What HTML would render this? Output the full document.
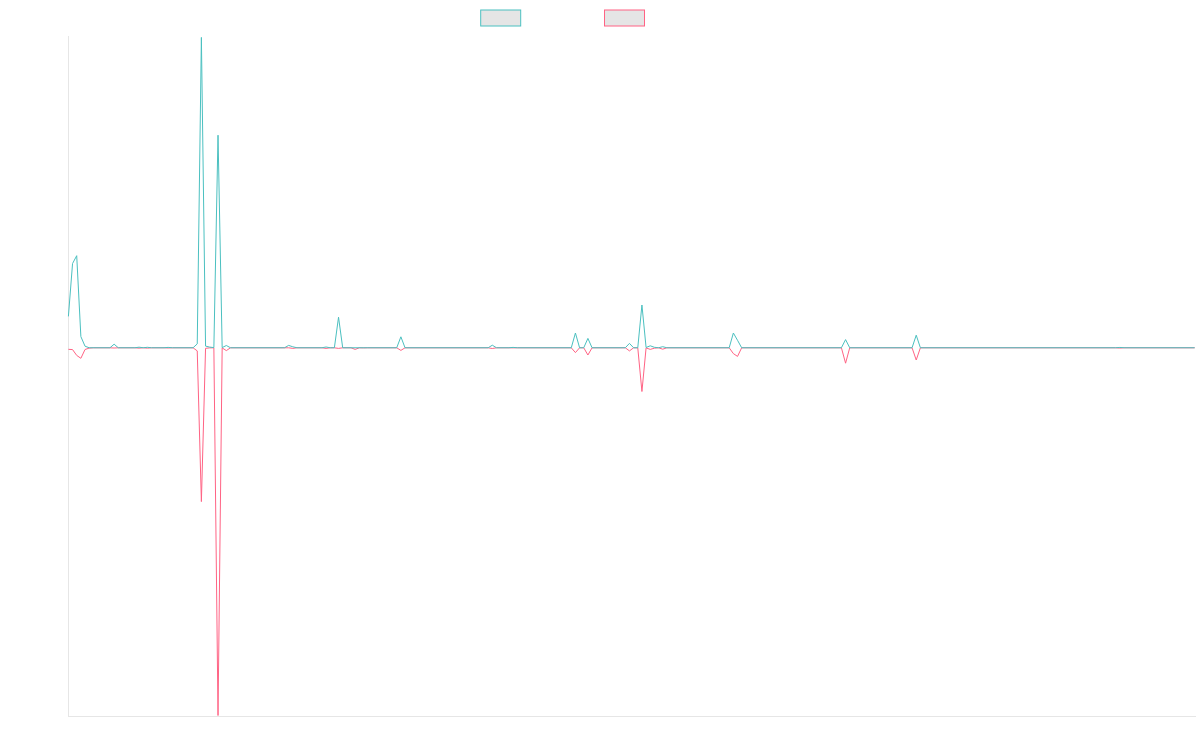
<!DOCTYPE html>
<html><head><meta charset="utf-8"><title>chart</title>
<style>
html,body{margin:0;padding:0;background:#fff;width:1200px;height:750px;overflow:hidden}
svg{display:block}
</style></head><body>
<svg width="1200" height="750" viewBox="0 0 1200 750">
<rect x="0" y="0" width="1200" height="750" fill="#fff"/>
<!-- legend -->
<rect x="480.7" y="10" width="40" height="16" fill="#e5e5e5" stroke="rgb(75,192,192)" stroke-width="1"/>
<rect x="604.5" y="10" width="40" height="16" fill="#e5e5e5" stroke="rgb(255,99,132)" stroke-width="1"/>
<!-- axes -->
<line x1="68.5" y1="36" x2="68.5" y2="717" stroke="#e6e6e6" stroke-width="1"/>
<line x1="68" y1="716.5" x2="1196" y2="716.5" stroke="#e6e6e6" stroke-width="1"/>
<!-- data -->
<polyline fill="none" stroke="rgb(255,99,132)" stroke-width="1" stroke-linejoin="miter" points="68.40,349.30 72.56,349.60 76.71,355.40 80.87,358.30 85.02,349.50 89.18,348.10 93.34,347.80 109.96,347.80 114.12,348.00 118.27,347.80 134.90,347.80 139.05,348.15 143.21,347.80 147.36,348.15 151.52,347.80 163.99,347.80 168.14,348.00 172.30,347.80 193.08,347.80 197.24,350.90 201.39,501.60 205.55,348.30 209.70,347.90 213.86,347.80 218.02,715.50 222.17,347.90 226.33,350.60 230.48,347.80 288.67,347.80 292.82,348.40 296.98,347.80 321.92,347.80 326.07,348.40 330.23,347.80 334.38,347.80 338.54,348.40 342.70,347.80 351.01,347.80 355.16,349.40 359.32,347.80 363.48,347.90 367.63,347.80 396.72,347.80 400.88,350.40 405.04,347.80 488.16,347.80 492.31,348.50 496.47,347.80 508.94,347.80 513.09,347.90 517.25,347.80 571.28,347.80 575.43,352.60 579.59,347.80 583.74,347.80 587.90,355.00 592.06,347.80 625.30,347.80 629.46,350.90 633.62,347.80 637.77,347.80 641.93,391.50 646.08,347.90 650.24,349.40 654.40,348.20 658.55,347.80 662.71,349.20 666.86,347.80 729.20,347.80 733.36,353.60 737.52,356.40 741.67,347.80 841.42,347.80 845.57,363.20 849.73,347.80 912.07,347.80 916.22,360.00 920.38,347.80 1115.71,347.80 1119.87,348.10 1124.02,347.80 1194.68,347.80"/>
<polyline fill="none" stroke="rgb(75,192,192)" stroke-width="1" stroke-linejoin="miter" points="68.40,316.40 72.56,263.50 76.71,255.70 80.87,336.60 85.02,346.20 89.18,347.75 109.96,347.75 114.12,344.20 118.27,347.75 134.90,347.75 139.05,347.20 143.21,347.75 147.36,347.30 151.52,347.75 163.99,347.75 168.14,347.40 172.30,347.75 193.08,347.75 197.24,343.90 201.39,37.40 205.55,346.10 209.70,347.10 213.86,347.60 218.02,135.20 222.17,347.60 226.33,345.50 230.48,347.75 284.51,347.75 288.67,345.40 292.82,346.80 296.98,347.75 321.92,347.75 326.07,347.00 330.23,347.75 334.38,347.75 338.54,317.20 342.70,347.75 396.72,347.75 400.88,336.80 405.04,347.75 488.16,347.75 492.31,345.20 496.47,347.75 508.94,347.75 513.09,347.40 517.25,347.75 571.28,347.75 575.43,333.00 579.59,347.75 583.74,347.75 587.90,338.40 592.06,347.75 625.30,347.75 629.46,343.40 633.62,347.75 637.77,347.75 641.93,305.00 646.08,347.50 650.24,345.80 654.40,347.30 658.55,347.75 662.71,346.70 666.86,347.75 729.20,347.75 733.36,333.00 737.52,340.30 741.67,347.75 841.42,347.75 845.57,339.60 849.73,347.75 912.07,347.75 916.22,335.20 920.38,347.75 1115.71,347.75 1119.87,347.45 1124.02,347.75 1194.68,347.75"/>
</svg>
</body></html>
